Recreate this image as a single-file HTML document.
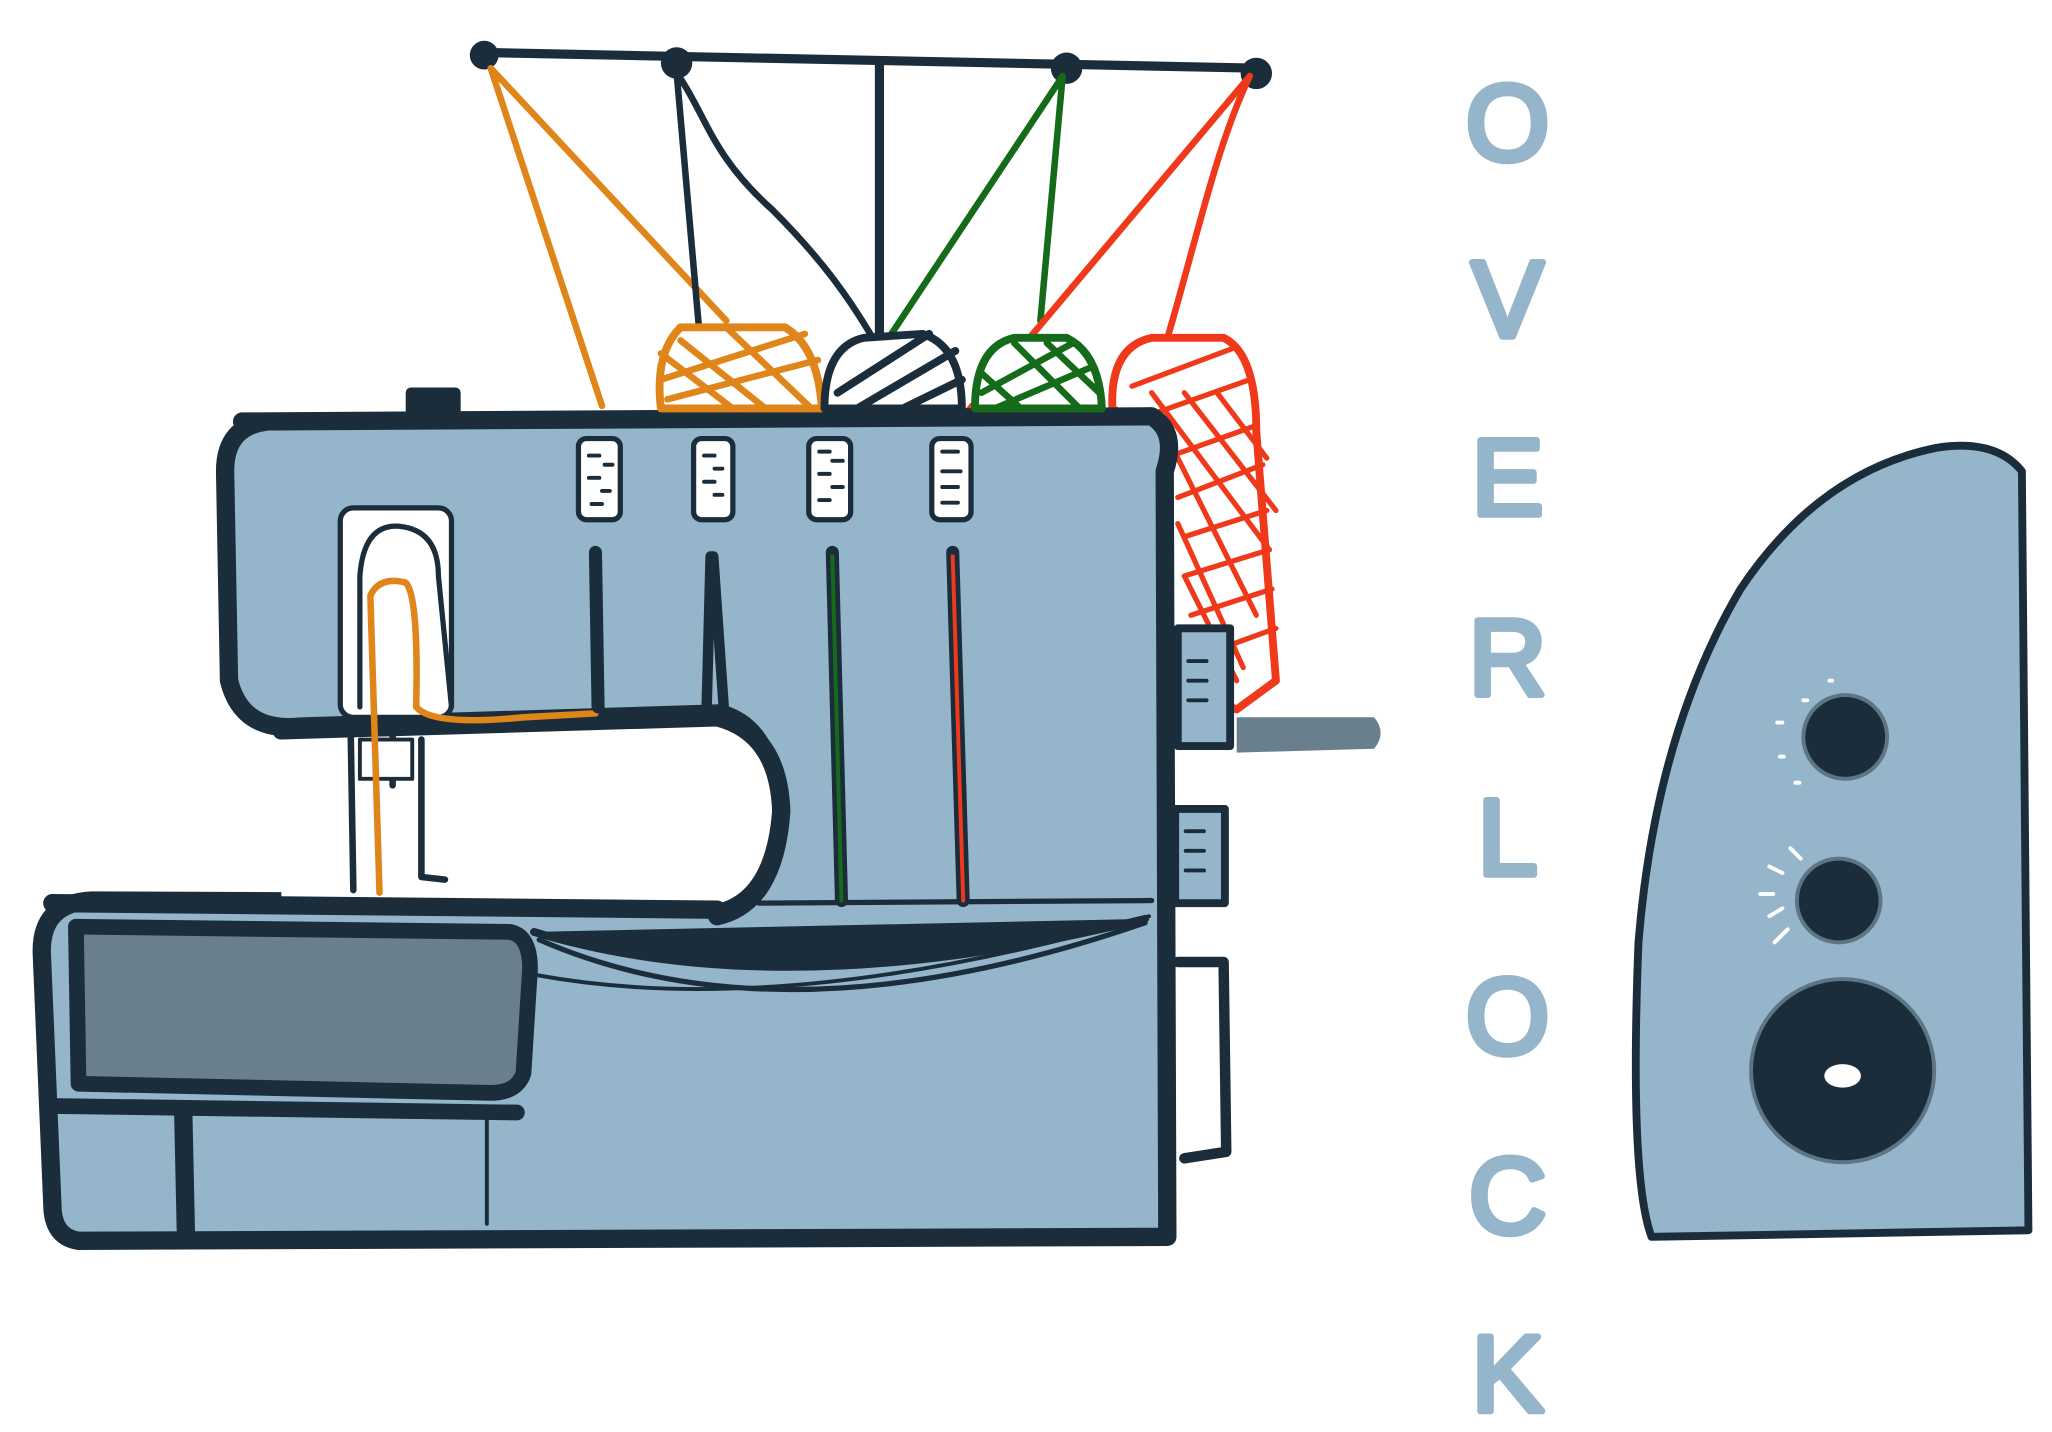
<!DOCTYPE html>
<html><head><meta charset="utf-8"><style>
html,body{margin:0;padding:0;background:#fff;}
svg{display:block;}
text{font-family:"Liberation Sans",sans-serif;}
</style></head><body>
<svg width="2052" height="1432" viewBox="0 0 1568 1094" xmlns="http://www.w3.org/2000/svg">
<g stroke-linecap="round" stroke-linejoin="round">
<!-- thread stand -->
<line x1="370" y1="40" x2="962" y2="52" stroke="#1b2d3b" stroke-width="7"/>
<line x1="672" y1="48" x2="672" y2="262" stroke="#1b2d3b" stroke-width="7"/>
<circle cx="370" cy="42" r="11" fill="#1b2d3b"/>
<circle cx="517" cy="48" r="12" fill="#1b2d3b"/>
<circle cx="815" cy="52" r="12" fill="#1b2d3b"/>
<circle cx="960" cy="56" r="12" fill="#1b2d3b"/>
<!-- red cone behind body -->
<path d="M850 312 Q848 265 880 258 L935 258 Q960 270 960 330 L975 520 L945 542 L890 520 L880 330 Z" fill="#fff" stroke="#f0391a" stroke-width="6"/>
<g stroke="#f0391a" stroke-width="4">
<path d="M865 295 L945 265 M870 320 L955 290 M890 350 L960 325 M900 380 L965 355 M905 410 L968 390 M905 440 L970 420 M910 470 L972 450 M920 500 L975 480"/>
<path d="M880 300 L970 420 M905 300 L975 390 M930 300 L968 350 M895 340 L960 470 M900 400 L950 510 M905 440 L945 520"/>
</g>
<!-- threads -->
<path d="M375 52 L460 310 M375 52 L555 245" stroke="#e0851a" stroke-width="5" fill="none"/>
<path d="M517 55 L540 318 M520 60 C540 90 545 120 590 160 C630 200 650 230 665 255" stroke="#1b2d3b" stroke-width="5" fill="none"/>
<path d="M812 58 L630 332 M812 58 L795 245" stroke="#156b1a" stroke-width="5" fill="none"/>
<path d="M955 58 L722 335 M955 58 C930 110 915 180 893 255" stroke="#f0391a" stroke-width="5" fill="none"/>
<!-- body -->
<path d="M185 322 L880 318 Q900 330 890 360 L892 945 L60 948 Q40 945 40 920 L32 730 Q30 690 70 688 L548 690 Q590 680 595 620 Q590 555 550 545 L230 555 Q185 560 175 520 L172 360 Q172 325 205 322 Z" fill="#94b5ca" stroke="#1b2d3b" stroke-width="14"/>
<!-- arch opening -->
<path d="M215 560 L550 553 Q590 565 590 620 Q585 680 550 690 L215 688 Z" fill="#fff"/>
<path d="M215 558 L548 548 Q595 560 597 620 Q592 690 548 700" fill="none" stroke="#1b2d3b" stroke-width="14"/>
<line x1="40" y1="690" x2="548" y2="695" stroke="#1b2d3b" stroke-width="14"/>
<!-- bed -->
<path d="M58 708 L390 712 Q405 715 405 740 L400 820 Q395 835 375 835 L60 828 Z" fill="#6a7f8e" stroke="#1b2d3b" stroke-width="12"/>
<line x1="40" y1="845" x2="395" y2="850" stroke="#1b2d3b" stroke-width="12"/>
<line x1="140" y1="848" x2="142" y2="940" stroke="#1b2d3b" stroke-width="14"/>
<line x1="372" y1="850" x2="372" y2="935" stroke="#1b2d3b" stroke-width="3"/>
<!-- looper cover curve -->
<path d="M408 712 Q600 770 875 702" fill="#1b2d3b" stroke="#1b2d3b" stroke-width="6"/>
<path d="M412 718 Q600 800 875 705" fill="none" stroke="#1b2d3b" stroke-width="4"/>
<path d="M410 745 Q600 780 878 700" fill="none" stroke="#1b2d3b" stroke-width="3"/>
<line x1="580" y1="690" x2="880" y2="688" stroke="#1b2d3b" stroke-width="4"/>
<!-- presser foot area -->
<rect x="260" y="388" width="85" height="160" rx="10" fill="#fff" stroke="#1b2d3b" stroke-width="4"/>
<path d="M275 540 L275 440 Q278 400 305 402 Q335 405 335 440 L345 540" fill="none" stroke="#1b2d3b" stroke-width="4"/>
<path d="M268 560 L270 680 M300 560 L300 600 M322 565 L322 670 L340 672" fill="none" stroke="#1b2d3b" stroke-width="5"/>
<rect x="275" y="565" width="40" height="30" fill="#fff" stroke="#1b2d3b" stroke-width="3"/>
<path d="M290 682 L283 455 Q290 440 310 445 Q320 455 318 540 Q330 555 400 548 L455 545 L455 430" fill="none" stroke="#e0851a" stroke-width="5"/>
<!-- tension dials -->
<g fill="#fff" stroke="#1b2d3b" stroke-width="4">
<rect x="442" y="335" width="32" height="62" rx="6"/>
<rect x="530" y="335" width="30" height="62" rx="6"/>
<rect x="618" y="335" width="32" height="62" rx="6"/>
<rect x="712" y="335" width="30" height="62" rx="6"/>
</g>
<g stroke="#1b2d3b" stroke-width="3">
<path d="M450 348h8M462 355h6M450 365h8M460 375h6M452 385h8"/>
<path d="M538 348h8M546 358h6M538 368h8M546 378h6"/>
<path d="M626 345h8M636 352h8M626 362h8M636 372h8M626 382h8"/>
<path d="M720 345h12M720 360h14M720 372h12M720 384h12"/>
</g>
<!-- thread guides -->
<line x1="455" y1="422" x2="457" y2="540" stroke="#1b2d3b" stroke-width="10"/>
<path d="M543 425 L540 540 M545 425 L553 540" stroke="#1b2d3b" stroke-width="8"/>
<line x1="636" y1="422" x2="643" y2="688" stroke="#1b2d3b" stroke-width="10"/>
<line x1="636" y1="425" x2="643" y2="688" stroke="#156b1a" stroke-width="3"/>
<line x1="728" y1="422" x2="736" y2="688" stroke="#1b2d3b" stroke-width="10"/>
<line x1="728" y1="425" x2="736" y2="688" stroke="#f0391a" stroke-width="3"/>
<!-- top knob -->
<rect x="310" y="296" width="42" height="22" rx="4" fill="#1b2d3b"/>
<!-- right side bits -->
<path d="M945 548 L1050 548 Q1060 560 1050 572 L945 575 Z" fill="#6a7f8e"/>
<rect x="900" y="480" width="40" height="90" fill="#94b5ca" stroke="#1b2d3b" stroke-width="6"/>
<path d="M908 505h14M908 520h14M908 535h14" stroke="#1b2d3b" stroke-width="3"/>
<rect x="898" y="618" width="38" height="72" fill="#94b5ca" stroke="#1b2d3b" stroke-width="6"/>
<path d="M906 635h14M906 650h14M906 665h14" stroke="#1b2d3b" stroke-width="3"/>
<path d="M900 735 L935 735 L937 880 L905 885" fill="none" stroke="#1b2d3b" stroke-width="8"/>
<!-- cones -->
<path d="M505 312 Q500 270 520 250 L600 250 Q625 265 628 312 Z" fill="#fff" stroke="#e0851a" stroke-width="6"/>
<path d="M505 290 L615 255 M510 305 L625 275 M520 260 L585 312 M555 250 L620 312 M505 270 L560 312" stroke="#e0851a" stroke-width="5" fill="none"/>
<path d="M630 312 Q630 265 660 258 L705 255 Q735 265 735 312 Z" fill="#fff" stroke="#1b2d3b" stroke-width="6"/>
<path d="M640 300 L710 255 M655 312 L730 268 M690 312 L735 290" stroke="#1b2d3b" stroke-width="6"/>
<path d="M745 312 Q745 265 775 258 L815 258 Q840 270 842 312 Z" fill="#fff" stroke="#156b1a" stroke-width="6"/>
<path d="M750 300 L820 262 M760 312 L835 280 M775 262 L825 312 M800 262 L840 300 M750 285 L780 312" stroke="#156b1a" stroke-width="5"/>
<!-- pedal -->
<path d="M1262 945 Q1245 900 1252 720 Q1265 560 1330 450 Q1390 360 1480 342 Q1525 335 1545 360 L1550 940 Z" fill="#94b5ca" stroke="#1b2d3b" stroke-width="6"/>
<circle cx="1410" cy="563" r="32" fill="#1b2d3b" stroke="#5f7585" stroke-width="3"/>
<circle cx="1405" cy="688" r="32" fill="#1b2d3b" stroke="#5f7585" stroke-width="3"/>
<circle cx="1408" cy="818" r="70" fill="#1b2d3b" stroke="#5f7585" stroke-width="3"/>
<ellipse cx="1408" cy="822" rx="14" ry="9" fill="#fff"/>
<g stroke="#fff" stroke-width="3">
<path d="M1358 552h4M1360 578h3M1372 598h3M1378 535h3M1398 520h2"/>
<path d="M1345 683h10M1352 700l10-6M1356 720l10-10M1352 662l10 5M1368 648l8 8"/>
</g>
</g>
<!-- OVERLOCK -->
<g fill="#94b5ca" stroke="#94b5ca" stroke-width="5" stroke-linejoin="round" font-size="82" text-anchor="middle" font-family="Liberation Sans, sans-serif">
<text x="1152" y="122">O</text>
<text x="1152" y="257">V</text>
<text x="1152" y="393">E</text>
<text x="1152" y="531">R</text>
<text x="1152" y="668">L</text>
<text x="1152" y="805">O</text>
<text x="1152" y="942">C</text>
<text x="1152" y="1078">K</text>
</g>
</svg>
</body></html>
